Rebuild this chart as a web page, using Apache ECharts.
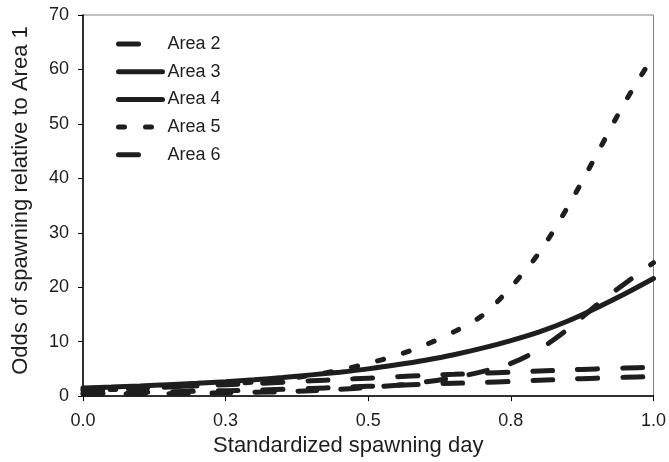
<!DOCTYPE html>
<html>
<head>
<meta charset="utf-8">
<title>Odds of spawning relative to Area 1</title>
<script src="https://cdn.jsdelivr.net/npm/echarts@6/dist/echarts.min.js"></script>
<style>
  html, body { margin: 0; padding: 0; background: #ffffff; }
  #chart { width: 669px; height: 462px; }
</style>
</head>
<body>
<div id="chart"></div>
<script>
// standardized spawning day (x)
var days = [0, 0.05, 0.1, 0.15, 0.2, 0.25, 0.3, 0.35, 0.4, 0.45, 0.5,
  0.55, 0.6, 0.65, 0.7, 0.75, 0.8, 0.85, 0.9, 0.95, 1.0]

// odds relative to Area 1
var area2 = [1.2, 1.35, 1.5, 1.7, 1.9, 2.1, 2.3, 2.55, 2.8, 3.05, 3.3,
  3.55, 3.8, 4.0, 4.2, 4.4, 4.6, 4.8, 5.0, 5.15, 5.3]
var area3 = [1.5, 1.65, 1.85, 2.1, 2.35, 2.65, 3.0, 3.4, 3.9, 4.4, 5.0,
  5.75, 6.6, 7.6, 8.8, 10.2, 11.8, 13.8, 16.2, 18.8, 21.6]
var area4 = [0.3, 0.35, 0.4, 0.45, 0.5, 0.6, 0.7, 0.8, 1.0, 1.25, 1.6,
  2.0, 2.6, 3.4, 4.5, 6.0, 8.6, 12.3, 16.7, 20.7, 24.5]
var area5 = [1.0, 1.2, 1.4, 1.65, 1.9, 2.2, 2.6, 3.1, 3.8, 4.8, 6.0,
  7.5, 9.4, 11.8, 14.8, 20.0, 26.4, 34.8, 44.3, 54.0, 62.5]
var area6 = [0.5, 0.6, 0.7, 0.8, 0.9, 1.0, 1.1, 1.25, 1.4, 1.6, 1.8,
  2.0, 2.2, 2.35, 2.5, 2.7, 2.9, 3.1, 3.3, 3.45, 3.6]

var areaNames = ['Area 2', 'Area 3', 'Area 4', 'Area 5', 'Area 6']

var ink = '#1e1e1e'
var font = 'Liberation Sans, Arial, Helvetica, sans-serif'

function pairs(values) {
  return days.map(function (d, i) { return [d, values[i]] })
}

function curve(name, values, dash) {
  return {
    name: name,
    type: 'line',
    data: pairs(values),
    smooth: 0.3,
    symbol: 'none',
    lineStyle: { color: ink, width: 5, type: dash, cap: 'round' },
    itemStyle: { color: ink }
  }
}

var myChart = echarts.init(document.getElementById('chart'))
myChart.setOption({
  animation: false,
  textStyle: { fontFamily: font, color: ink },
  grid: {
    left: 83, right: 12, top: 15, bottom: 64,
    show: true, borderColor: '#808080', borderWidth: 1
  },
  legend: {
    orient: 'vertical',
    left: 111,
    top: 30,
    itemWidth: 44,
    itemHeight: 12,
    itemGap: 9.7,
    textStyle: { fontSize: 18, color: ink, fontFamily: font },
    // hide the marker circle, keep only the line sample
    itemStyle: { opacity: 0 },
    lineStyle: { width: 5 },
    data: [
      { name: 'Area 2' },
      { name: 'Area 3' },
      { name: 'Area 4', lineStyle: { type: 'solid' } },
      { name: 'Area 5' },
      { name: 'Area 6' }
    ]
  },
  xAxis: {
    type: 'value',
    min: 0,
    max: 1,
    interval: 0.25,
    name: 'Standardized spawning day',
    nameLocation: 'middle',
    nameGap: 37,
    // title sits a bit left of the plot centre
    nameTextStyle: { fontSize: 22, color: ink, padding: [0, 40, 0, 0] },
    axisLine: { lineStyle: { color: '#000', width: 1.5 } },
    axisTick: { show: true, length: 5, lineStyle: { color: '#000' } },
    axisLabel: {
      fontSize: 18, color: ink, margin: 16,
      formatter: function (v) { return v.toFixed(1) }
    },
    splitLine: { show: false }
  },
  yAxis: {
    type: 'value',
    min: 0,
    max: 70,
    interval: 10,
    name: 'Odds of spawning relative to Area 1',
    nameLocation: 'middle',
    nameGap: 51,
    nameTextStyle: { fontSize: 22, color: ink, padding: [0, 0, 0, 10] },
    axisLine: { show: true, lineStyle: { color: '#000', width: 1.5 } },
    axisTick: { show: true, length: 5, lineStyle: { color: '#000' } },
    axisLabel: { fontSize: 18, color: ink, margin: 14 },
    splitLine: { show: false }
  },
  series: [
    curve(areaNames[0], area2, [20, 25]),
    curve(areaNames[1], area3, 'solid'),
    curve(areaNames[2], area4, [19, 24]),
    curve(areaNames[3], area5, [6, 21]),
    curve(areaNames[4], area6, [20, 25])
  ]
})
</script>
</body>
</html>
